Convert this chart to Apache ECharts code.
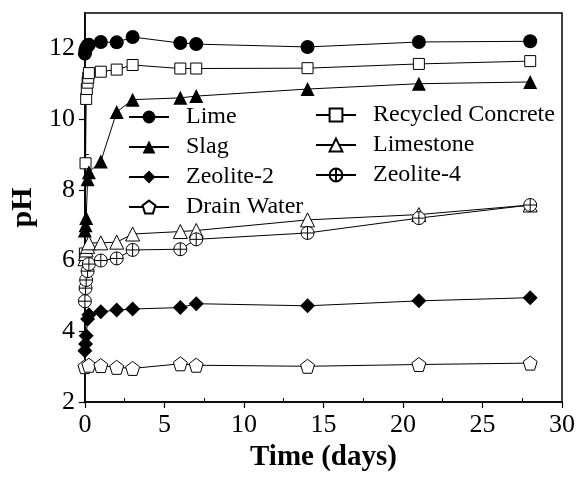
<!DOCTYPE html>
<html>
<head>
<meta charset="utf-8">
<script src="https://cdn.jsdelivr.net/npm/echarts@6/dist/echarts.min.js"></script>
<style>html,body{margin:0;padding:0;background:#fff}#c{width:581px;height:477px}</style>
</head>
<body>
<div id="c"></div>
<script>
// Data
const limeTime = [0, 0.04, 0.08, 0.17, 0.25, 1, 2, 3, 6, 7, 14, 21, 28];
const lime = [11.85, 11.95, 12.02, 12.08, 12.1, 12.18, 12.17, 12.32, 12.15, 12.12, 12.04, 12.18, 12.2];
const rcTime = [0, 0.04, 0.08, 0.12, 0.17, 0.21, 0.25, 1, 2, 3, 6, 7, 14, 21, 28];
const recycledConcrete = [6.2, 8.75, 10.57, 10.85, 11.03, 11.17, 11.3, 11.34, 11.4, 11.53, 11.43, 11.43, 11.44, 11.56, 11.64];
const slagTime = [0, 0.04, 0.08, 0.17, 0.25, 1, 2, 3, 6, 7, 14, 21, 28];
const slag = [6.85, 7.0, 7.2, 8.3, 8.5, 8.8, 10.2, 10.55, 10.6, 10.65, 10.85, 11.0, 11.05];
const limestoneTime = [0, 0.04, 0.08, 0.17, 0.25, 1, 2, 3, 6, 7, 14, 21, 28];
const limestone = [6.05, 6.2, 6.3, 6.4, 6.5, 6.5, 6.52, 6.75, 6.82, 6.85, 7.15, 7.3, 7.57];
const zeolite2Time = [0, 0.04, 0.08, 0.17, 0.25, 1, 2, 3, 6, 7, 14, 21, 28];
const zeolite2 = [3.45, 3.64, 3.87, 4.35, 4.47, 4.55, 4.6, 4.63, 4.67, 4.78, 4.72, 4.86, 4.95];
const zeolite4Time = [0, 0.04, 0.08, 0.17, 0.25, 1, 2, 3, 6, 7, 14, 21, 28];
const zeolite4 = [4.85, 5.22, 5.45, 5.7, 5.9, 6.0, 6.06, 6.3, 6.32, 6.6, 6.78, 7.2, 7.57];
const drainTime = [0, 0.25, 1, 2, 3, 6, 7, 14, 21, 28];
const drainWater = [3.0, 3.04, 3.03, 2.98, 2.95, 3.08, 3.04, 3.01, 3.06, 3.1];
const xTicks = [0, 5, 10, 15, 20, 25, 30];
const yTicks = [2, 4, 6, 8, 10, 12];
const xMinor = [2.5, 7.5, 12.5, 17.5, 22.5, 27.5];
const yMinor = [3, 5, 7, 9, 11];

const FONT = "'Liberation Serif','Times New Roman',serif";
const circlePlus = 'path://M10,0A10,10,0,1,1,-10,0A10,10,0,1,1,10,0ZM-10,0L10,0M0,-10L0,10';
const pentagon = 'path://M0,-10L9.51,-3.09L5.88,8.09L-5.88,8.09L-9.51,-3.09Z';

function pairs(t, v) { return t.map((x, i) => [x, v[i]]); }
function mk(name, t, v, symbol, size, filled) {
  return {
    name, type: 'line', data: pairs(t, v), symbol, symbolSize: size, clip: false,
    lineStyle: { color: '#000', width: 1 },
    itemStyle: filled ? { color: '#000', borderColor: '#000', borderWidth: 0 }
                      : { color: '#fff', borderColor: '#000', borderWidth: 1 },
    emphasis: { disabled: true }, animation: false
  };
}

const chart = echarts.init(document.getElementById('c'), null, { renderer: 'canvas' });
const legendCommon = {
  orient: 'vertical', itemWidth: 40, itemHeight: 16, itemGap: 6, padding: 0,
  selectedMode: false,
  textStyle: { fontFamily: FONT, fontSize: 24, color: '#000', padding: [0, 0, 0, 12] }
};
chart.setOption({
  animation: false,
  grid: { left: 74, top: 13, width: 488, height: 396, show: true, borderColor: '#000', borderWidth: 1.5, backgroundColor: 'transparent' },
  legend: [
    Object.assign({ left: 128, top: 105, data: ['Lime', 'Slag', 'Zeolite-2', 'Drain Water'] }, legendCommon),
    Object.assign({ left: 315, top: 103, data: ['Recycled Concrete', 'Limestone', 'Zeolite-4'] }, legendCommon)
  ],
  xAxis: [{
    type: 'value', min: 0, max: 30, interval: 5,
    name: 'Time (days)', nameLocation: 'middle', nameGap: 41,
    nameTextStyle: { fontFamily: FONT, fontSize: 29, fontWeight: 'bold', color: '#000' },
    axisLine: { lineStyle: { color: '#000', width: 1.5 } },
    axisTick: { customValues: xTicks, length: 6, lineStyle: { color: '#000', width: 1.2 } },
    axisLabel: { customValues: xTicks, fontFamily: FONT, fontSize: 26, color: '#000', margin: 10 },
    splitLine: { show: false }
  }, {
    type: 'value', min: 0, max: 30, position: 'bottom',
    axisLine: { show: false },
    axisTick: { customValues: xMinor, inside: true, length: 4, lineStyle: { color: '#000', width: 1 } },
    axisLabel: { show: false }, splitLine: { show: false }
  }],
  yAxis: [{
    type: 'value', min: 2, max: 13, interval: 2,
    name: 'pH', nameLocation: 'middle', nameGap: 44,
    nameTextStyle: { fontFamily: FONT, fontSize: 30, fontWeight: 'bold', color: '#000' },
    axisLine: { show: true, lineStyle: { color: '#000', width: 1.5 } },
    axisTick: { customValues: yTicks, length: 6, lineStyle: { color: '#000', width: 1.2 } },
    axisLabel: { customValues: yTicks, fontFamily: FONT, fontSize: 26, color: '#000', margin: 10 },
    splitLine: { show: false }
  }, {
    type: 'value', min: 2, max: 13, position: 'left',
    axisLine: { show: false },
    axisTick: { customValues: yMinor, inside: true, length: 4, lineStyle: { color: '#000', width: 1 } },
    axisLabel: { show: false }, splitLine: { show: false }
  }],
  series: [
    mk('Lime', limeTime, lime, 'circle', 14, true),
    mk('Recycled Concrete', rcTime, recycledConcrete, 'rect', 11, false),
    mk('Slag', slagTime, slag, 'triangle', 14, true),
    mk('Limestone', limestoneTime, limestone, 'triangle', 14, false),
    mk('Zeolite-2', zeolite2Time, zeolite2, 'diamond', 15, true),
    mk('Zeolite-4', zeolite4Time, zeolite4, circlePlus, 13, false),
    mk('Drain Water', drainTime, drainWater, pentagon, 14, false)
  ]
});
</script>
</body>
</html>
